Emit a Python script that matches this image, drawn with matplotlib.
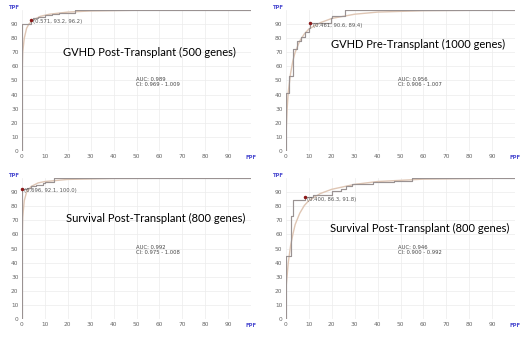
import matplotlib
matplotlib.use("Agg")
import matplotlib.pyplot as plt

# panel titles and stats
titles = ["GVHD Post-Transplant (500 genes)", "GVHD Pre-Transplant (1000 genes)",
          "Survival Post-Transplant (800 genes)", "Survival Post-Transplant (800 genes)"]
auc_text = ["AUC: 0.989\nCI: 0.969 - 1.009", "AUC: 0.956\nCI: 0.906 - 1.007",
            "AUC: 0.992\nCI: 0.975 - 1.008", "AUC: 0.946\nCI: 0.900 - 0.992"]
# operating point: (threshold, TPF, specificity)
op_thr = [0.571, 0.461, 0.696, 0.400]
op_tpf = [93.2, 90.6, 92.1, 86.3]
op_spec = [96.2, 89.4, 100.0, 91.8]

# empirical ROC (jump points: FPF, TPF after jump)
step_x = [
    [0, 0, 3.8, 5, 7, 10, 13, 16, 23, 100],
    [0, 0, 1.5, 3, 5, 6.5, 8.5, 10, 10.6, 19.5, 20, 25.6, 100],
    [0, 0, 2, 4, 6, 9, 10, 14, 100],
    [0, 0, 2, 3.2, 8.2, 12, 20, 24, 26, 29, 38, 47, 55, 100],
]
step_y = [
    [0, 90, 93.2, 94.5, 95.3, 96.5, 97.5, 98.2, 100, 100],
    [0, 41, 53, 72, 78, 81, 84.4, 87, 90.6, 94.3, 95.5, 100, 100],
    [0, 92.1, 93, 94, 95, 96.2, 97.5, 100, 100],
    [0, 45, 73, 84.4, 86.3, 88, 90.5, 92, 94, 96, 97, 98, 100, 100],
]

# fitted (smooth) ROC
fit_x = [
    [0, 0, 0.3, 1, 2, 3, 5, 8, 12, 20, 30, 50, 100],
    [0, 0, 0.5, 1, 2, 3, 4, 6, 8, 10, 15, 20, 30, 40, 60, 100],
    [0, 0, 0.3, 1, 2, 4, 7, 10, 20, 40, 100],
    [0, 0, 1, 2, 3, 4, 6, 8, 10, 15, 20, 30, 40, 60, 100],
]
fit_y = [
    [0, 52, 70, 80, 87, 90, 93, 95.5, 97, 98.5, 99.3, 99.8, 100],
    [0, 12, 30, 42, 55, 64, 70, 78, 83, 86.5, 91, 94, 97, 98.5, 99.5, 100],
    [0, 52, 72, 84, 90, 94, 96.5, 97.5, 99, 99.7, 100],
    [0, 22, 40, 52, 60, 67, 75, 80.5, 84, 89, 92, 95.5, 97.5, 99.2, 100],
]

title_pos = [(18, 70), (19.5, 75.5), (19, 71), (19, 64.5)]
auc_pos = [(50, 49), (49, 49), (50, 49), (49, 49)]

fig = plt.figure(figsize=(5.2, 3.37), dpi=100)
boxes = [(0.0423, 0.552), (0.55, 0.552), (0.0423, 0.0534), (0.55, 0.0534)]
ticks = list(range(0, 100, 10))

for i in range(4):
    ax = fig.add_axes([boxes[i][0], boxes[i][1], 0.4404, 0.4184])
    ax.set_xlim(0, 100)
    ax.set_ylim(0, 100)
    for s in ax.spines.values():
        s.set_visible(False)
    ax.set_xticks(ticks)
    ax.set_yticks(ticks)
    ax.tick_params(length=0, labelsize=4.2, labelcolor="#666666", pad=2.5)
    ax.grid(color="#ececec", lw=0.5)
    ax.set_axisbelow(True)

    ax.plot(fit_x[i], fit_y[i], color="#dfc6b4", lw=1.0)
    ax.plot(step_x[i], step_y[i], color="#9a9292", lw=0.85, drawstyle="steps-post")

    fpf = step_x[i][step_y[i].index(op_tpf[i])]
    ax.plot([fpf], [op_tpf[i]], "o", color="#8b1a1a", ms=1.5, clip_on=False)
    ax.text(fpf + 1, op_tpf[i] + 0.5,
            "(%.3f, %.1f, %.1f)" % (op_thr[i], op_tpf[i], op_spec[i]),
            fontsize=3.8, color="#555555", va="top", ha="left")

    ax.text(title_pos[i][0], title_pos[i][1], titles[i], fontsize=8.0,
            family="Lato", va="center", ha="left", color="#000000")
    ax.text(auc_pos[i][0], auc_pos[i][1], auc_text[i], fontsize=3.8,
            color="#444444", va="center", ha="left", linespacing=1.0)

    ax.text(-1.5, 101.5, "TPF", fontsize=3.8, color="#4a4ad0", fontweight="bold",
            ha="right", va="center", clip_on=False)
    ax.text(100, -2.5, "FPF", fontsize=3.8, color="#4a4ad0", fontweight="bold",
            ha="center", va="top", clip_on=False)

fig.savefig("out.png", dpi=100)
